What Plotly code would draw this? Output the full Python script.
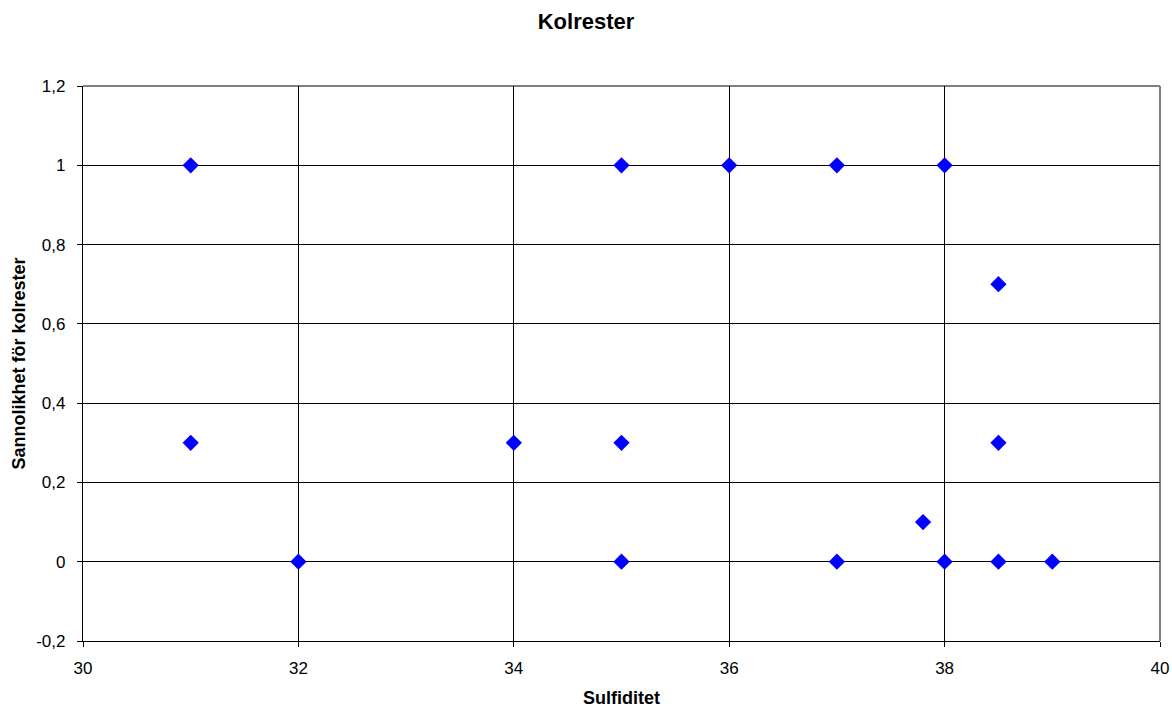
import plotly.graph_objects as go

sulfiditet = [31, 31, 32, 34, 35, 35, 35, 36, 37, 37, 37.8, 38, 38, 38.5, 38.5, 38.5, 39]
sannolikhet = [1, 0.3, 0, 0.3, 1, 0.3, 0, 1, 1, 0, 0.1, 1, 0, 0.7, 0.3, 0, 0]

x_ticks = [30, 32, 34, 36, 38, 40]
y_ticks = [-0.2, 0, 0.2, 0.4, 0.6, 0.8, 1, 1.2]
y_labels = ["-0,2", "0", "0,2", "0,4", "0,6", "0,8", "1", "1,2"]

font = "Liberation Sans, Arial, sans-serif"

fig = go.Figure()
fig.add_trace(go.Scatter(
    x=sulfiditet, y=sannolikhet, mode="markers",
    marker=dict(symbol="diamond", size=12.5, color="#0000FF", line=dict(width=0)),
    showlegend=False, cliponaxis=False,
))

fig.update_layout(
    width=1172, height=713,
    paper_bgcolor="white", plot_bgcolor="white",
    margin=dict(l=83, r=12, t=86, b=72, autoexpand=False),
    title=dict(text="<b>Kolrester</b>", x=0.5, xanchor="center", y=1 - 21 / 713, yanchor="middle",
               font=dict(family=font, size=22, color="black")),
    font=dict(family=font, size=17, color="black"),
    shapes=[
        dict(type="line", xref="paper", yref="paper", x0=0, y0=1, x1=1, y1=1,
             line=dict(color="#808080", width=2), layer="below"),
        dict(type="line", xref="paper", yref="paper", x0=1, y0=0, x1=1, y1=1,
             line=dict(color="#808080", width=2), layer="below"),
    ],
    annotations=[
        dict(text="<b>Sulfiditet</b>", xref="paper", yref="paper", x=0.5, y=(15 - 72) / 555,
             xanchor="center", yanchor="middle", showarrow=False,
             font=dict(family=font, size=18, color="black")),
        dict(text="<b>Sannolikhet för kolrester</b>", xref="paper", yref="paper",
             x=(18 - 83) / 1077, y=0.5, xanchor="center", yanchor="middle", textangle=-90,
             showarrow=False, font=dict(family=font, size=18, color="black")),
    ],
)
fig.update_xaxes(
    range=[30, 40], tickvals=x_ticks, ticktext=[str(v) for v in x_ticks],
    showgrid=True, gridcolor="black", gridwidth=1,
    showline=True, linecolor="black", linewidth=1.2,
    ticks="outside", ticklen=5, tickcolor="black", tickwidth=1,
    zeroline=False, ticklabelstandoff=6,
    tickfont=dict(family=font, size=17),
)
fig.update_yaxes(
    range=[-0.2, 1.2], tickvals=y_ticks, ticktext=y_labels,
    showgrid=True, gridcolor="black", gridwidth=1,
    showline=True, linecolor="black", linewidth=1.2,
    ticks="outside", ticklen=5, tickcolor="black", tickwidth=1,
    zeroline=False, ticklabelstandoff=8,
    tickfont=dict(family=font, size=17),
)

fig.write_html("out.html", config={"displayModeBar": False},
               post_script="document.body.style.margin='0';")
